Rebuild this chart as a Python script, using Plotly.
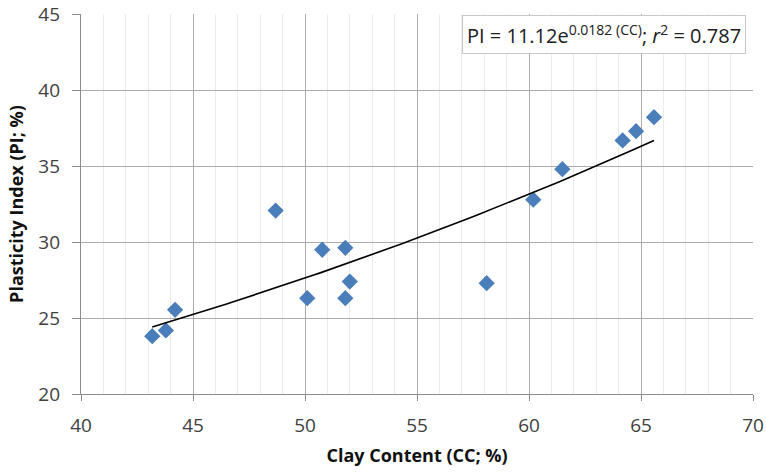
import numpy as np
import plotly.graph_objects as go

# Data
clay_content = [43.18, 43.79, 44.20, 48.69, 50.10, 50.77, 51.80, 51.80, 52.00,
                58.11, 60.19, 61.49, 64.18, 64.78, 65.58]
plasticity_index = [23.80, 24.18, 25.54, 32.07, 26.30, 29.49, 29.62, 26.30, 27.40,
                    27.29, 32.78, 34.79, 36.68, 37.29, 38.21]

# Fitted exponential trendline coefficients (as stated on the chart)
fit_a = 11.12
fit_b = 0.0182
r_squared = 0.787

x_ticks = [40, 45, 50, 55, 60, 65, 70]
y_ticks = [20, 25, 30, 35, 40, 45]

xs = np.linspace(min(clay_content), max(clay_content), 100)
ys = fit_a * np.exp(fit_b * xs)

FONT = "Open Sans, Liberation Sans, sans-serif"

fig = go.Figure()
fig.add_trace(go.Scatter(
    x=clay_content, y=plasticity_index, mode="markers",
    marker=dict(symbol="diamond", size=12.5, color="#4A7EBB", line=dict(width=0)),
    showlegend=False, cliponaxis=False))
fig.add_trace(go.Scatter(
    x=xs, y=ys, mode="lines", line=dict(color="black", width=1.6),
    showlegend=False))

tick_font = dict(family=FONT, size=19, color="#404040")
title_font = dict(family=FONT, size=18, color="#111111")

fig.update_xaxes(
    range=[40, 70], tickmode="array", tickvals=x_ticks,
    ticktext=[str(v) for v in x_ticks],
    showgrid=True, gridcolor="#ABABAB", gridwidth=1.2,
    minor=dict(dtick=1, showgrid=True, gridcolor="#EBEBEB", gridwidth=1),
    showline=True, linecolor="#8C8C8C", linewidth=1.3,
    ticks="outside", ticklen=6, tickcolor="#8C8C8C",
    ticklabelstandoff=8,
    tickfont=tick_font, zeroline=False, automargin=False,
    title=dict(text="<b>Clay Content (CC; %)</b>", font=title_font, standoff=12))
fig.update_yaxes(
    range=[20, 45], tickmode="array", tickvals=y_ticks,
    ticktext=[str(v) for v in y_ticks],
    showgrid=True, gridcolor="#ABABAB", gridwidth=1.2,
    showline=True, linecolor="#8C8C8C", linewidth=1.3,
    ticks="outside", ticklen=8, tickcolor="#8C8C8C",
    ticklabelstandoff=8,
    tickfont=tick_font, zeroline=False, automargin=False,
    title=dict(text="<b>Plasticity Index (PI; %)</b>", font=title_font, standoff=10))

fig.add_annotation(
    x=0.9896, y=0.997, xref="paper", yref="paper", xanchor="right", yanchor="top",
    text=f"PI = {fit_a:.2f}e<sup>{fit_b} (CC)</sup>; <i>r</i><sup>2</sup> = {r_squared}",
    showarrow=False, align="left",
    font=dict(family=FONT, size=20, color="#202020"),
    bgcolor="white", bordercolor="#C8C8C8", borderwidth=1, borderpad=4)

fig.update_layout(
    width=766, height=472,
    margin=dict(l=81, r=13, t=14, b=78),
    paper_bgcolor="white", plot_bgcolor="white")

fig.write_html("out.html")
